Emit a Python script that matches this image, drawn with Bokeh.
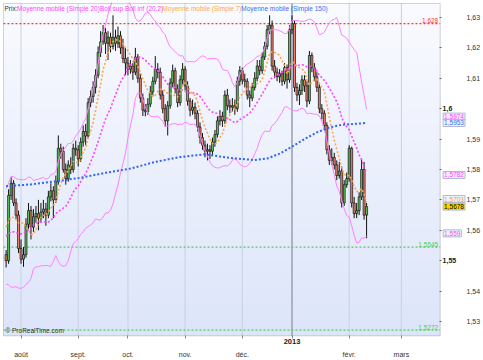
import numpy as np
import pandas as pd
from bokeh.plotting import figure
from bokeh.models import FixedTicker, Label, Range1d, BoxAnnotation
from bokeh.embed import file_html
from bokeh.resources import INLINE

# ---------------- data ----------------
# closes before the first visible candle (only used to seed the moving averages)
prior_closes = [1.5560, 1.5620, 1.5690, 1.5700, 1.5620, 1.5510, 1.5495, 1.5510, 1.5530, 1.5495,
                1.5430, 1.5560, 1.5615, 1.5600, 1.5640, 1.5700, 1.5690, 1.5625, 1.5520]

opens = [1.5520, 1.5500, 1.5715, 1.5755, 1.5690, 1.5650, 1.5540, 1.5505, 1.5520, 1.5620,
         1.5665, 1.5610, 1.5645, 1.5655, 1.5640, 1.5660, 1.5670, 1.5650, 1.5710, 1.5730,
         1.5700, 1.5760, 1.5870, 1.5860, 1.5800, 1.5770, 1.5815, 1.5800, 1.5870, 1.5865,
         1.5835, 1.5890, 1.5925, 1.5910, 1.6020, 1.6040, 1.6070, 1.6110, 1.6185, 1.6220,
         1.6250, 1.6215, 1.6235, 1.6205, 1.6235, 1.6215, 1.6240, 1.6200, 1.6165, 1.6150,
         1.6130, 1.6140, 1.6120, 1.6170, 1.6100, 1.6035, 1.5995, 1.5990, 1.6015, 1.6055,
         1.6090, 1.6130, 1.6120, 1.6045, 1.6000, 1.5960, 1.6010, 1.6085, 1.6125, 1.6065,
         1.6020, 1.6095, 1.6130, 1.6075, 1.6025, 1.5995, 1.6005, 1.5985, 1.5940, 1.5905,
         1.5880, 1.5860, 1.5865, 1.5860, 1.5890, 1.5915, 1.5960, 1.5975, 1.5960, 1.6045,
         1.6010, 1.6005, 1.6010, 1.6000, 1.6090, 1.6125, 1.6095, 1.6090, 1.6045, 1.6035,
         1.6070, 1.6100, 1.6140, 1.6125, 1.6170, 1.6205, 1.6260, 1.6275, 1.6140, 1.6120,
         1.6105, 1.6115, 1.6090, 1.6135, 1.6095, 1.6260, 1.6280, 1.6070, 1.6045, 1.6060,
         1.6095, 1.6075, 1.6025, 1.6175, 1.6135, 1.6105, 1.6070, 1.6000, 1.5985, 1.5945,
         1.5865, 1.5830, 1.5840, 1.5815, 1.5780, 1.5795, 1.5690, 1.5750, 1.5770, 1.5870,
         1.5690, 1.5655, 1.5665, 1.5710, 1.5800, 1.5650]

highs = [1.5535, 1.5735, 1.5775, 1.5765, 1.5705, 1.5665, 1.5570, 1.5545, 1.5640, 1.5690,
         1.5680, 1.5670, 1.5680, 1.5700, 1.5690, 1.5700, 1.5690, 1.5730, 1.5755, 1.5745,
         1.5780, 1.5912, 1.5885, 1.5875, 1.5820, 1.5830, 1.5840, 1.5885, 1.5895, 1.5880,
         1.5905, 1.5945, 1.5950, 1.6035, 1.6060, 1.6090, 1.6130, 1.6205, 1.6255, 1.6275,
         1.6265, 1.6255, 1.6250, 1.6307, 1.6260, 1.6270, 1.6255, 1.6230, 1.6200, 1.6170,
         1.6160, 1.6150, 1.6200, 1.6180, 1.6115, 1.6050, 1.6015, 1.6035, 1.6075, 1.6105,
         1.6173, 1.6150, 1.6135, 1.6060, 1.6015, 1.6025, 1.6100, 1.6145, 1.6135, 1.6080,
         1.6110, 1.6150, 1.6140, 1.6090, 1.6035, 1.6030, 1.6020, 1.5995, 1.5955, 1.5920,
         1.5895, 1.5885, 1.5880, 1.5905, 1.5930, 1.5975, 1.5995, 1.5990, 1.6060, 1.6065,
         1.6030, 1.6035, 1.6030, 1.6105, 1.6140, 1.6135, 1.6115, 1.6100, 1.6060, 1.6085,
         1.6120, 1.6160, 1.6160, 1.6185, 1.6220, 1.6275, 1.6307, 1.6290, 1.6160, 1.6135,
         1.6130, 1.6125, 1.6150, 1.6145, 1.6275, 1.6307, 1.6290, 1.6085, 1.6080, 1.6110,
         1.6110, 1.6090, 1.6190, 1.6185, 1.6150, 1.6120, 1.6080, 1.6015, 1.5995, 1.5955,
         1.5880, 1.5870, 1.5855, 1.5830, 1.5825, 1.5810, 1.5765, 1.5790, 1.5880, 1.5875,
         1.5710, 1.5690, 1.5725, 1.5835, 1.5825, 1.5690]

lows = [1.5478, 1.5490, 1.5700, 1.5680, 1.5635, 1.5525, 1.5490, 1.5480, 1.5510, 1.5605,
        1.5570, 1.5595, 1.5625, 1.5600, 1.5625, 1.5640, 1.5615, 1.5640, 1.5695, 1.5640,
        1.5690, 1.5750, 1.5835, 1.5790, 1.5750, 1.5760, 1.5785, 1.5790, 1.5845, 1.5810,
        1.5825, 1.5875, 1.5880, 1.5900, 1.6005, 1.6020, 1.6050, 1.6100, 1.6170, 1.6210,
        1.6180, 1.6160, 1.6185, 1.6195, 1.6190, 1.6200, 1.6180, 1.6150, 1.6110, 1.6110,
        1.6115, 1.6095, 1.6110, 1.6085, 1.6020, 1.5976, 1.5975, 1.5980, 1.6005, 1.6040,
        1.6080, 1.6100, 1.6030, 1.5985, 1.5940, 1.5912, 1.6000, 1.6070, 1.6050, 1.6005,
        1.6010, 1.6080, 1.6060, 1.6010, 1.5975, 1.5980, 1.5965, 1.5925, 1.5885, 1.5865,
        1.5840, 1.5830, 1.5835, 1.5845, 1.5875, 1.5905, 1.5945, 1.5940, 1.5950, 1.5995,
        1.5985, 1.5990, 1.5980, 1.5990, 1.6075, 1.6080, 1.6070, 1.6030, 1.6005, 1.6025,
        1.6060, 1.6090, 1.6110, 1.6115, 1.6160, 1.6195, 1.6245, 1.6125, 1.6100, 1.6090,
        1.6085, 1.6075, 1.6080, 1.6066, 1.6085, 1.6245, 1.6055, 1.6025, 1.6012, 1.6045,
        1.6055, 1.6005, 1.6015, 1.6120, 1.6090, 1.6055, 1.5985, 1.5965, 1.5930, 1.5850,
        1.5815, 1.5815, 1.5800, 1.5765, 1.5770, 1.5675, 1.5680, 1.5740, 1.5760, 1.5675,
        1.5640, 1.5640, 1.5650, 1.5700, 1.5635, 1.5574]

closes = [1.5500, 1.5715, 1.5755, 1.5690, 1.5650, 1.5540, 1.5505, 1.5520, 1.5620, 1.5665,
          1.5610, 1.5645, 1.5655, 1.5640, 1.5660, 1.5670, 1.5650, 1.5710, 1.5730, 1.5700,
          1.5760, 1.5870, 1.5860, 1.5800, 1.5770, 1.5815, 1.5800, 1.5870, 1.5865, 1.5835,
          1.5890, 1.5925, 1.5910, 1.6020, 1.6040, 1.6070, 1.6110, 1.6185, 1.6220, 1.6250,
          1.6215, 1.6235, 1.6205, 1.6235, 1.6215, 1.6240, 1.6200, 1.6165, 1.6150, 1.6130,
          1.6140, 1.6120, 1.6170, 1.6100, 1.6035, 1.5995, 1.5990, 1.6015, 1.6055, 1.6090,
          1.6130, 1.6120, 1.6045, 1.6000, 1.5960, 1.6010, 1.6085, 1.6125, 1.6065, 1.6020,
          1.6095, 1.6130, 1.6075, 1.6025, 1.5995, 1.6005, 1.5985, 1.5940, 1.5905, 1.5880,
          1.5860, 1.5865, 1.5860, 1.5890, 1.5915, 1.5960, 1.5975, 1.5960, 1.6045, 1.6010,
          1.6005, 1.6010, 1.6000, 1.6090, 1.6125, 1.6095, 1.6090, 1.6045, 1.6035, 1.6070,
          1.6100, 1.6140, 1.6125, 1.6170, 1.6205, 1.6260, 1.6275, 1.6140, 1.6120, 1.6105,
          1.6115, 1.6090, 1.6135, 1.6095, 1.6260, 1.6280, 1.6070, 1.6045, 1.6060, 1.6095,
          1.6075, 1.6025, 1.6175, 1.6135, 1.6105, 1.6070, 1.6000, 1.5985, 1.5945, 1.5865,
          1.5830, 1.5840, 1.5815, 1.5780, 1.5795, 1.5690, 1.5750, 1.5770, 1.5870, 1.5690,
          1.5655, 1.5665, 1.5710, 1.5800, 1.5650, 1.5678]

# 150-day moving average, read at some candles
ma150_idx = [0, 10, 20, 30, 40, 50, 60, 70, 80, 90, 100, 105, 110, 115, 120, 125, 130, 135, 140, 145]
ma150_val = [1.5745, 1.5751, 1.5761, 1.5773, 1.5789, 1.5803, 1.5825, 1.5841, 1.5850, 1.5838,
             1.5831, 1.5836, 1.5852, 1.5875, 1.5900, 1.5922, 1.5938, 1.5947, 1.5950, 1.5953]

month_ticks = [6, 29, 49, 72, 95, 115, 138, 159]
month_labels = ["août", "sept.", "oct.", "nov.", "déc.", "2013", "févr.", "mars"]
year_tick = 115

price_ticks = [1.53, 1.54, 1.55, 1.56, 1.57, 1.58, 1.59, 1.60, 1.61, 1.62, 1.63]
price_labels = ["1,53", "1,54", "1,55", "1,56", "1,57", "1,58", "1,59", "1,6", "1,61", "1,62", "1,63"]
bold_prices = [1.55, 1.60]

level_vals = [1.628, 1.5545, 1.5272]
level_texts = ["1,628", "1,5545", "1,5272"]
level_colors = ["#ff3c1e", "#4fd04f", "#4fd04f"]

last_vals = [1.5974, 1.5953, 1.5782, 1.5703, 1.5678, 1.559]
last_texts = ["1,5974", "1,5953", "1,5782", "1,5703", "1,5678", "1,559"]
last_colors = ["#ff44ff", "#3a6cf4", "#ff44ff", "#ff9a3c", "#000000", "#ff44ff"]
last_fills = ["#eef2fb", "#eef2fb", "#eef2fb", "#eef2fb", "#ffd400", "#eef2fb"]

legend_texts = ["Prix:", "Moyenne mobile (Simple 20)", "Boll sup Boll inf (20.2)",
                "Moyenne mobile (Simple 7)", "Moyenne mobile (Simple 150)"]
legend_colors = ["#333333", "#ff44ff", "#ff44ff", "#ffa64d", "#3a6cf4"]
legend_px = [1, 14, 99, 163, 244]

# ---------------- indicators ----------------
n = len(closes)
idx = np.arange(n)
o = np.array(opens)
c = np.array(closes)
hi = np.array(highs)
lo = np.array(lows)
up = c >= o

full = pd.Series(prior_closes + closes)
k = len(prior_closes)
ma20 = full.rolling(20).mean().to_numpy()[k:]
sd20 = full.rolling(20).std(ddof=0).to_numpy()[k:]
ma7 = full.rolling(7).mean().to_numpy()[k:]
b_up = ma20 + 2 * sd20
b_dn = ma20 - 2 * sd20

# ---------------- geometry ----------------
W, H = 483, 360
# price pane: x 3..451, y 3..343 (pixels)
X0, X1 = -1.06, 174.6
Y0, Y1 = 1.5253, 1.6346
PL, PT, PR, PB = 3, 3, 451, 343
pxx = (X1 - X0) / (PR - PL)
pxy = (Y1 - Y0) / (PB - PT)
# the plotting frame also covers the price-scale and date strips
FL, FT, FR, FB = 2, 2, 478, 358
XA, XB = X0 - (PL - FL) * pxx, X0 + (FR - PL) * pxx
YA, YB = Y0 - (FB - PB) * pxy, Y1 + (PT - FT) * pxy
FONT = "Liberation Sans"

p = figure(width=W, height=H, x_range=Range1d(XA, XB), y_range=Range1d(YA, YB),
           output_backend="svg", toolbar_location=None, y_axis_location="right",
           min_border_left=FL, min_border_top=FT, min_border_right=W - FR,
           min_border_bottom=H - FB)
p.background_fill_color = "white"
p.border_fill_color = "white"
p.outline_line_color = None
p.xgrid.visible = False
p.ygrid.visible = False

# background gradient of the price pane
ng = 256
t = np.linspace(0, 1, ng)
bot = np.array([221, 229, 250])
top = np.array([250, 251, 255])
rgb = bot[None, :] * (1 - t[:, None]) + top[None, :] * t[:, None]
img = np.zeros((ng, 2), dtype=np.uint32)
view = img.view(dtype=np.uint8).reshape((ng, 2, 4))
for ch in range(3):
    view[:, :, ch] = rgb[:, ch, None].astype(np.uint8)
view[:, :, 3] = 255
p.image_rgba(image=[img], x=X0, y=Y0, dw=X1 - X0, dh=Y1 - Y0, level="image")

# month grid lines (inside the price pane only)
grid_col = ["#aab2c4" if m == year_tick else "#c9d1e4" for m in month_ticks]
grid_w = [2 if m == year_tick else 1 for m in month_ticks]
p.segment(x0=month_ticks, y0=[Y0] * len(month_ticks), x1=month_ticks, y1=[Y1] * len(month_ticks),
          line_color=grid_col, line_width=grid_w, level="underlay")

# horizontal levels
p.segment(x0=[X0] * len(level_vals), y0=level_vals, x1=[X1] * len(level_vals), y1=level_vals,
          line_color=level_colors, line_dash="2 2", line_width=1.2, level="underlay")

# candles
p.segment(idx, hi, idx, lo, line_color="#111111", line_width=1)
p.vbar(x=idx[up], width=0.8, top=c[up], bottom=o[up], fill_color="#5cc65c",
       line_color="#111111", line_width=0.7)
p.vbar(x=idx[~up], width=0.8, top=o[~up], bottom=c[~up], fill_color="#ef8270",
       line_color="#111111", line_width=0.7)

# indicators
p.line(idx, b_up, line_color="#ff80ff", line_width=1)
p.line(idx, b_dn, line_color="#ff80ff", line_width=1)
p.line(idx, ma20, line_color="#ff44ff", line_width=1.6, line_dash="2 2")
p.line(idx, ma7, line_color="#ffa64d", line_width=1.6, line_dash="2 2")
p.line(ma150_idx, ma150_val, line_color="#2f66f2", line_width=2, line_dash="2 2")

# pane border
p.add_layout(BoxAnnotation(left=X0, right=X1, bottom=Y0, top=Y1, fill_alpha=0,
                           line_color="#6f6f6f", line_width=1))

# axes: ticks and labels drawn back against the price pane edges
xa = p.xaxis[0]
xa.ticker = FixedTicker(ticks=month_ticks)
xa.major_label_overrides = {t_: (lab if t_ != year_tick else "") for t_, lab in zip(month_ticks, month_labels)}
xa.axis_line_color = None
xa.major_tick_in = FB - PB
xa.major_tick_out = -(FB - PB - 3)
xa.major_tick_line_color = "#888888"
xa.minor_tick_line_color = None
xa.major_label_standoff = 0
xa.major_label_text_font = FONT
xa.major_label_text_font_size = "7px"
xa.major_label_text_color = "#333333"

ya = p.yaxis[0]
ya.ticker = FixedTicker(ticks=price_ticks)
ya.major_label_overrides = {t_: (lab if t_ not in bold_prices else "") for t_, lab in zip(price_ticks, price_labels)}
ya.axis_line_color = None
ya.major_tick_in = FR - PR
ya.major_tick_out = -(FR - PR - 2)
ya.major_tick_line_color = "#666666"
ya.minor_tick_line_color = None
ya.major_label_standoff = 0
ya.major_label_text_font = FONT
ya.major_label_text_font_size = "7px"
ya.major_label_text_color = "#333333"

# bold tick labels
for v, lab in zip(price_ticks, price_labels):
    if v in bold_prices:
        p.add_layout(Label(x=X1 + 2.5 * pxx, y=v, text=lab, text_font=FONT, text_font_size="7px",
                           text_font_style="bold", text_color="#222222", text_baseline="middle",
                           text_align="left"))
p.add_layout(Label(x=year_tick, y=Y0 - 3.5 * pxy, text=month_labels[month_ticks.index(year_tick)],
                   text_font=FONT, text_font_size="7.5px", text_font_style="bold",
                   text_color="#222222", text_baseline="top", text_align="center"))

# last-value boxes on the price scale
for v, txt, col, fill in zip(last_vals, last_texts, last_colors, last_fills):
    p.add_layout(Label(x=X1 + 3 * pxx, y=v, text=txt, text_font=FONT, text_font_size="6.5px",
                       text_color=col, text_align="left", text_baseline="middle",
                       background_fill_color=fill, border_line_color="#aebbd0",
                       border_line_width=1, padding=1))

# level labels
for v, txt, col in zip(level_vals, level_texts, level_colors):
    p.add_layout(Label(x=X1 - 2 * pxx, y=v + 0.5 * pxy, text=txt, text_font=FONT,
                       text_font_size="6.5px", text_color=col, text_align="right",
                       text_baseline="bottom"))

# legend line
for txt, col, px in zip(legend_texts, legend_colors, legend_px):
    p.add_layout(Label(x=X0 + px * pxx, y=Y1 - 5 * pxy, text=txt, text_font=FONT,
                       text_font_size="6.5px", text_color=col, text_align="left",
                       text_baseline="middle"))

# copyright
p.add_layout(Label(x=X0 + 2 * pxx, y=Y0 + 2 * pxy, text="\u00a9 ProRealTime.com", text_font=FONT,
                   text_font_size="6.5px", text_color="#333333", text_align="left",
                   text_baseline="bottom"))

open("out.html", "w").write(file_html(p, INLINE))
